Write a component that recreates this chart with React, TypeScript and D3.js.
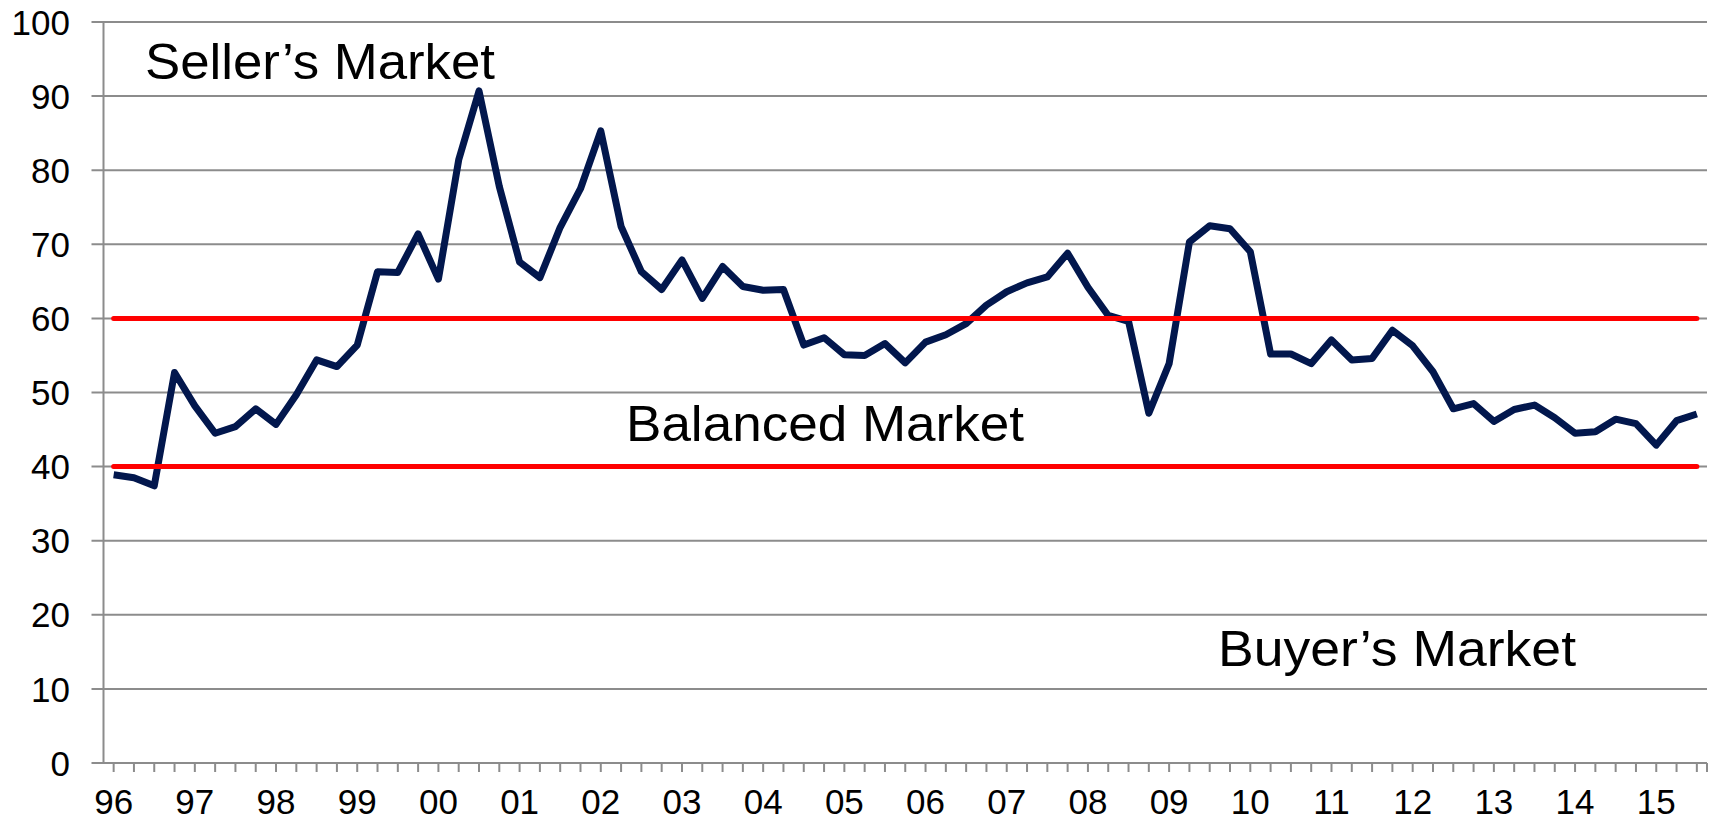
import React from "react";
import * as d3 from "d3";

// quarterly index values, 1996 Q1 .. 2015 Q3
const values = [
  38.9, 38.5, 37.4, 52.7, 48.2, 44.5, 45.4, 47.8, 45.7, 49.7,
  54.4, 53.5, 56.4, 66.3, 66.2, 71.4, 65.3, 81.4, 90.7, 77.8,
  67.6, 65.5, 72.3, 77.5, 85.3, 72.4, 66.3, 63.9, 67.9, 62.7,
  67.0, 64.3, 63.8, 63.9, 56.4, 57.4, 55.1, 55.0, 56.6, 54.0,
  56.8, 57.8, 59.3, 61.8, 63.6, 64.8, 65.6, 68.8, 64.2, 60.4,
  59.6, 47.2, 53.9, 70.3, 72.5, 72.1, 69.0, 55.2, 55.2, 53.9,
  57.1, 54.4, 54.6, 58.4, 56.3, 52.8, 47.8, 48.5, 46.1, 47.7,
  48.3, 46.6, 44.5, 44.7, 46.4, 45.8, 42.9, 46.2, 47.1,
];

const yearLabels = [
  "96", "97", "98", "99", "00", "01", "02", "03", "04", "05",
  "06", "07", "08", "09", "10", "11", "12", "13", "14", "15",
];

const yTicks = [0, 10, 20, 30, 40, 50, 60, 70, 80, 90, 100];
const thresholds = [40, 60];

const zoneTexts = ["Seller\u2019s Market", "Balanced Market", "Buyer\u2019s Market"];

const W = 1717;
const H = 820;
const left = 103.5;
const right = 1707;
const top = 22;
const bottom = 763;

const font = "'Liberation Sans', Arial, Helvetica, sans-serif";
const gridColor = "#8c8c8c";

// where the zone labels sit and how wide they run
const zonePos = [
  { x: 145, y: 79, w: 350 },
  { x: 626, y: 441, w: 398 },
  { x: 1218, y: 666, w: 358 },
];

export default function App() {
  const idx = values.map((_, i) => i);
  const x = d3.scalePoint<number>().domain(idx).range([left, right]).padding(0.5);
  const y = d3.scaleLinear().domain([0, 100]).range([bottom, top]);

  const line = d3
    .line<number>()
    .x((_, i) => x(i) as number)
    .y((d) => y(d));

  const first = x(0) as number;
  const last = x(values.length - 1) as number;

  return (
    <svg
      width={W}
      height={H}
      style={{ position: "absolute", left: 0, top: 0, background: "#fff" }}
      fontFamily={font}
    >
      {/* gridlines + y ticks */}
      {yTicks.map((t) => (
        <g key={t}>
          <line x1={left - 12} x2={right} y1={y(t)} y2={y(t)} stroke={gridColor} strokeWidth={2} />
          <text x={70} y={y(t)} dy="0.36em" textAnchor="end" fontSize={35} fill="#000">
            {t}
          </text>
        </g>
      ))}

      <line x1={left} x2={left} y1={top} y2={bottom} stroke={gridColor} strokeWidth={2} />

      {/* x ticks, one per quarter */}
      {idx.map((i) => (
        <line
          key={i}
          x1={x(i) as number}
          x2={x(i) as number}
          y1={bottom}
          y2={bottom + 9}
          stroke={gridColor}
          strokeWidth={2}
        />
      ))}
      <line x1={right} x2={right} y1={bottom} y2={bottom + 9} stroke={gridColor} strokeWidth={2} />

      {yearLabels.map((lab, k) => (
        <text key={lab} x={x(k * 4) as number} y={814} textAnchor="middle" fontSize={35} fill="#000">
          {lab}
        </text>
      ))}

      <path
        d={line(values) ?? ""}
        fill="none"
        stroke="#02174d"
        strokeWidth={7}
        strokeLinejoin="round"
      />

      {thresholds.map((t) => (
        <line
          key={t}
          x1={first}
          x2={last}
          y1={y(t)}
          y2={y(t)}
          stroke="#ff0000"
          strokeWidth={5}
          strokeLinecap="round"
        />
      ))}

      {zoneTexts.map((txt, k) => (
        <text
          key={txt}
          x={zonePos[k].x}
          y={zonePos[k].y}
          fontSize={50}
          textLength={zonePos[k].w}
          lengthAdjust="spacingAndGlyphs"
          fill="#000"
        >
          {txt}
        </text>
      ))}
    </svg>
  );
}
